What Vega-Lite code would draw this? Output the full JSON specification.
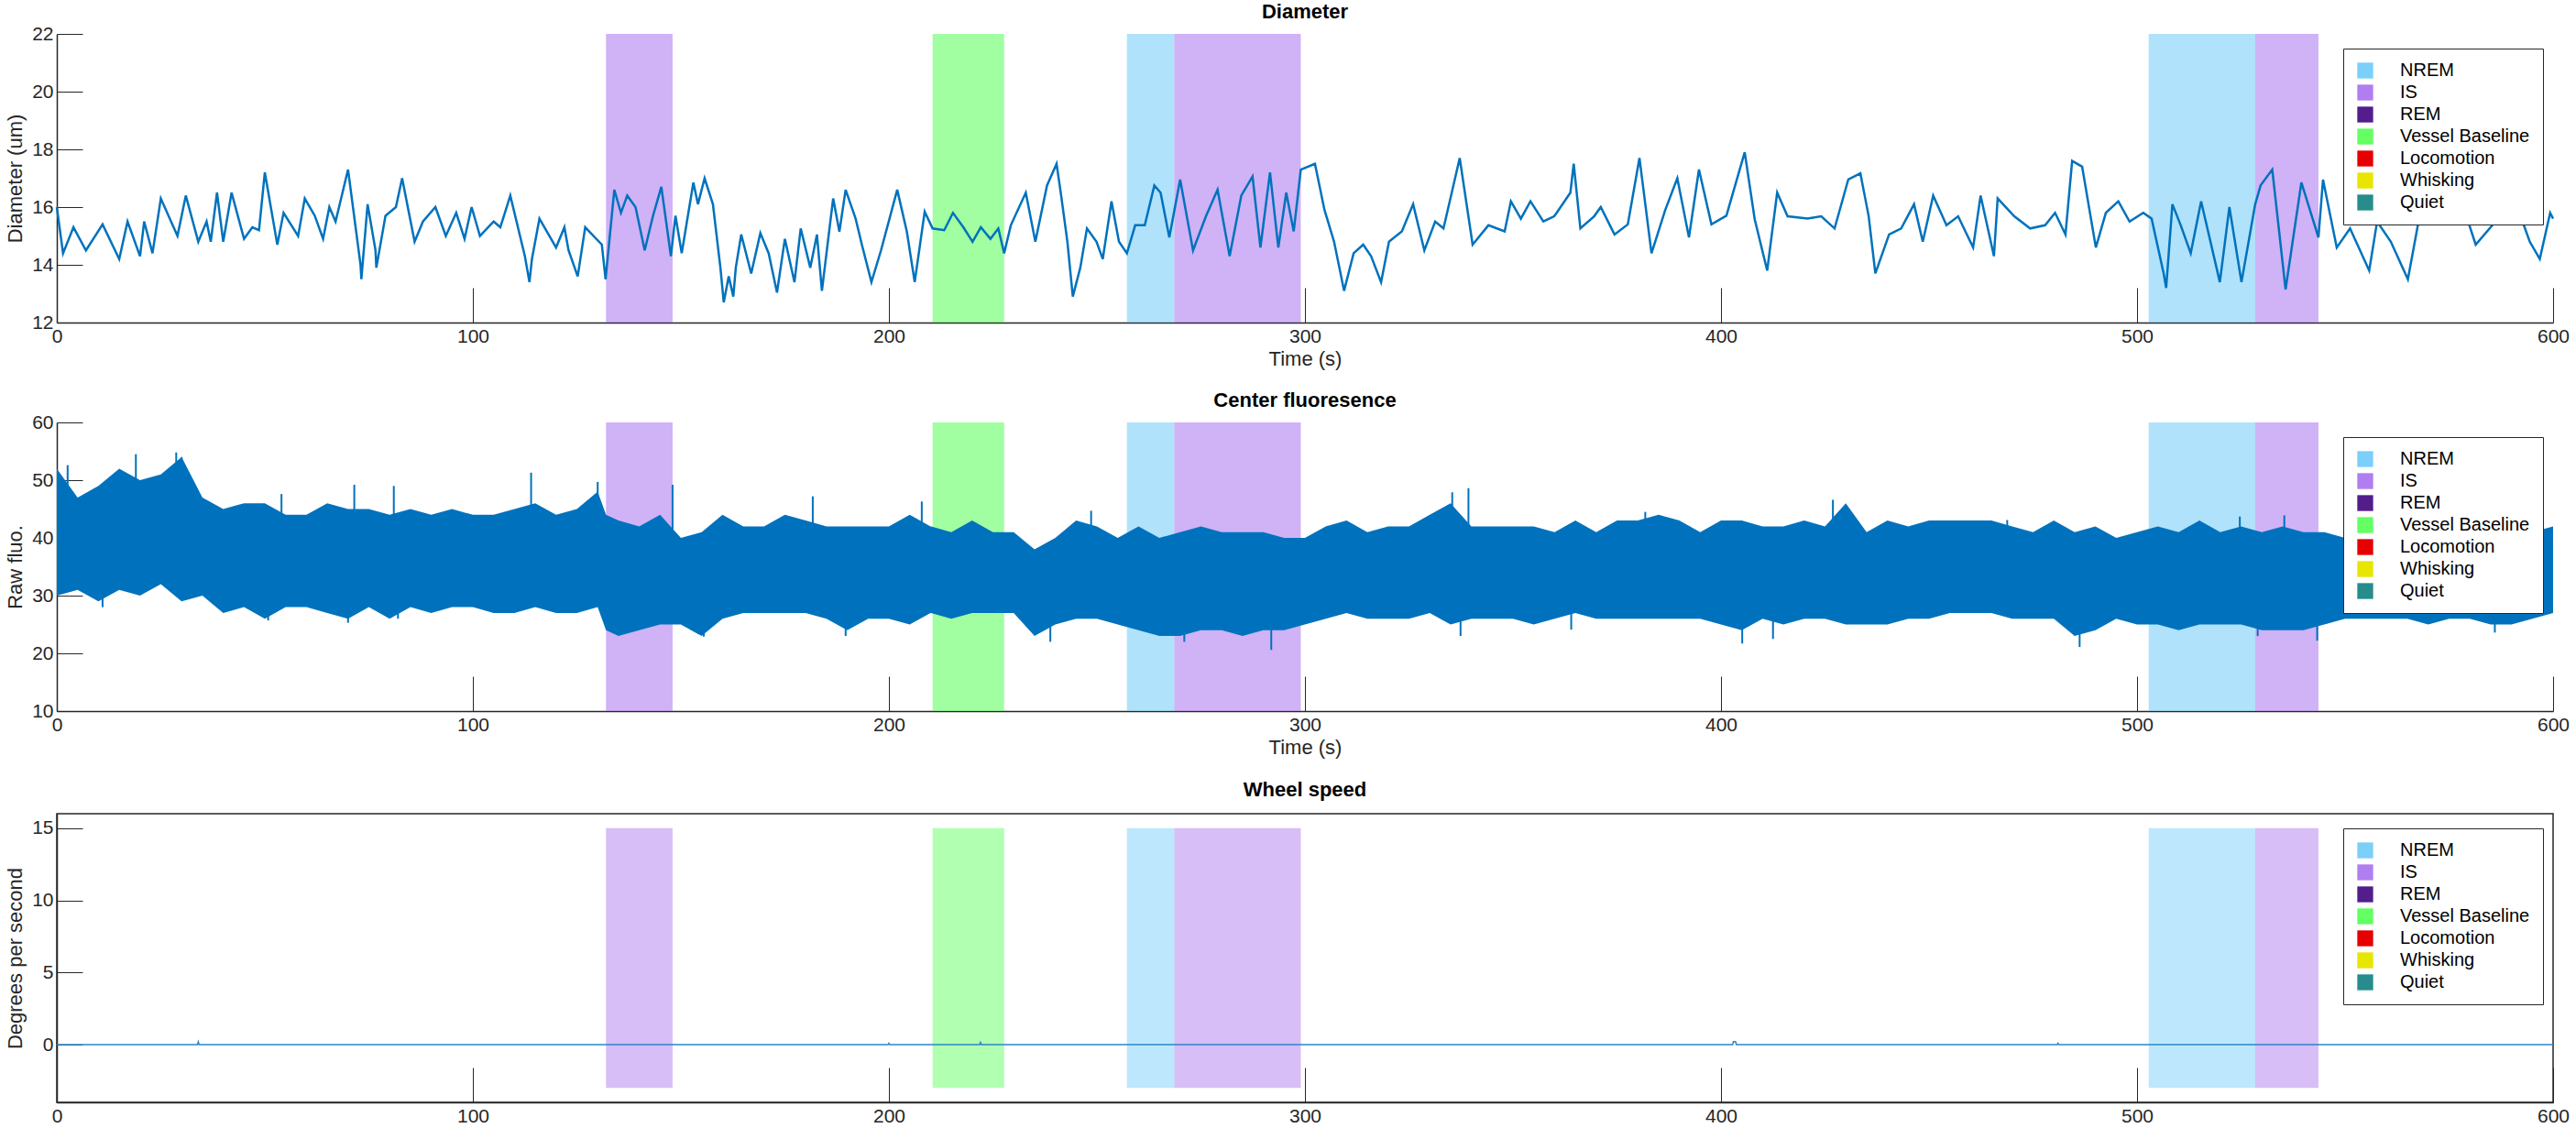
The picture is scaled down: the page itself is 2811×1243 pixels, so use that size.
{
  "$schema": "https://vega.github.io/schema/vega-lite/v6.json",
  "background": "white",
  "padding": {"left": 4, "top": 2, "right": 5, "bottom": 0},
  "spacing": 24,
  "config": {
    "font": "Liberation Sans",
    "view": {"stroke": null},
    "axis": {
      "grid": false, "domainColor": "#262626", "domainWidth": 1.5, "tickColor": "#262626",
      "labelFontSize": 21, "labelColor": "#262626", "titleFontSize": 22, "titleFontWeight": "normal",
      "titleColor": "#262626", "labelFlush": false
    },
    "axisX": {"tickSize": -38, "labelPadding": 42, "titlePadding": 4},
    "axisY": {"tickSize": -28, "labelPadding": 32, "titlePadding": 6},
    "title": {"fontSize": 22, "fontWeight": "bold", "color": "#000", "offset": 1},
    "legend": {
      "orient": "none", "legendX": 2495, "legendY": 16, "title": null, "strokeColor": "#262626",
      "fillColor": "white", "padding": 14, "labelFontSize": 20, "symbolType": "square",
      "symbolSize": 300, "symbolOpacity": 1, "symbolStrokeWidth": 0, "rowPadding": 4,
      "labelOffset": 28, "labelColor": "#000"
    }
  },
  "datasets": {
    "bands": [
      {"state": "IS", "start": 132, "end": 148},
      {"state": "Vessel Baseline", "start": 210.5, "end": 227.7},
      {"state": "NREM", "start": 257.2, "end": 268.6},
      {"state": "IS", "start": 268.6, "end": 299},
      {"state": "NREM", "start": 502.8, "end": 528.4},
      {"state": "IS", "start": 528.4, "end": 543.6}
    ],
    "diam": [
      {"t":0,"v":16},{"t":1.5,"v":14.4},{"t":4,"v":15.3},{"t":7,"v":14.5},{"t":11,"v":15.4},{"t":15,"v":14.2},{"t":17,"v":15.5},{"t":20,"v":14.3},{"t":21,"v":15.5},{"t":23,"v":14.4},{"t":25,"v":16.3},{"t":29,"v":15},{"t":31,"v":16.4},{"t":34,"v":14.8},{"t":36,"v":15.5},{"t":37,"v":14.8},{"t":38.5,"v":16.5},{"t":40,"v":14.8},{"t":42,"v":16.5},{"t":45,"v":14.9},{"t":47,"v":15.3},{"t":48.6,"v":15.2},{"t":50,"v":17.2},{"t":53,"v":14.7},{"t":54.5,"v":15.8},{"t":58,"v":15},{"t":59.6,"v":16.3},{"t":62,"v":15.7},{"t":64,"v":14.9},{"t":65.5,"v":16},{"t":67,"v":15.5},{"t":70,"v":17.3},{"t":73,"v":14},{"t":73.2,"v":13.5},{"t":74.7,"v":16.1},{"t":76.6,"v":14.5},{"t":76.8,"v":13.9},{"t":79,"v":15.7},{"t":81.5,"v":16},{"t":83,"v":17},{"t":86,"v":14.8},{"t":88,"v":15.5},{"t":91,"v":16},{"t":93.5,"v":15},{"t":96,"v":15.8},{"t":98,"v":14.9},{"t":99.7,"v":16},{"t":101.7,"v":15},{"t":105,"v":15.5},{"t":106.6,"v":15.3},{"t":109,"v":16.4},{"t":112.5,"v":14.3},{"t":113.6,"v":13.4},{"t":114.2,"v":14.2},{"t":116,"v":15.6},{"t":120,"v":14.6},{"t":122,"v":15.3},{"t":123,"v":14.5},{"t":125.2,"v":13.6},{"t":127,"v":15.3},{"t":131,"v":14.7},{"t":131.9,"v":13.5},
      {"t":134,"v":16.6},{"t":135.6,"v":15.8},{"t":137.1,"v":16.4},{"t":139.1,"v":16},{"t":141.3,"v":14.5},{"t":143.3,"v":15.7},{"t":145.3,"v":16.7},{"t":147.6,"v":14.3},{"t":148.7,"v":15.7},{"t":150.2,"v":14.4},{"t":153,"v":16.85},{"t":154.1,"v":16.1},{"t":155.7,"v":17},{"t":157.7,"v":16.1},{"t":159.5,"v":13.9},{"t":160.3,"v":12.7},{"t":161.5,"v":13.6},{"t":162.6,"v":12.9},{"t":163.2,"v":13.9},{"t":164.5,"v":15.05},{"t":166.9,"v":13.7},{"t":169.1,"v":15.1},{"t":171.1,"v":14.4},{"t":173.1,"v":13.04},{"t":175,"v":14.9},{"t":177.3,"v":13.4},{"t":178.8,"v":15.26},{"t":181.1,"v":13.9},{"t":182.7,"v":15.05},{"t":183.9,"v":13.1},{"t":186.6,"v":16.3},{"t":188.1,"v":15.15},{"t":189.6,"v":16.6},{"t":192,"v":15.6},{"t":193.5,"v":14.7},{"t":195.8,"v":13.4},{"t":198.1,"v":14.5},{"t":202,"v":16.6},{"t":204.3,"v":15.16},{"t":206.2,"v":13.4},{"t":208.6,"v":15.84},{"t":210.5,"v":15.26},{"t":213.3,"v":15.2},{"t":215.4,"v":15.8},{"t":217.9,"v":15.3},{"t":220.1,"v":14.8},{"t":222.1,"v":15.3},{"t":224.4,"v":14.9},{"t":226.3,"v":15.26},{"t":227.7,"v":14.4},{"t":229.3,"v":15.37},{"t":232.9,"v":16.5},{"t":235.2,"v":14.8},{"t":238,"v":16.75},{"t":240.3,"v":17.5},{"t":241.4,"v":16.4},{"t":242.9,"v":14.8},{"t":244.2,"v":12.9},{"t":246,"v":13.9},{"t":247.6,"v":15.26},{"t":249.9,"v":14.8},{"t":251.4,"v":14.2},{"t":253.5,"v":16.2},{"t":255.3,"v":14.8},{"t":257.2,"v":14.4},{"t":259.2,"v":15.37},{"t":261.5,"v":15.37},{"t":263.8,"v":16.75},{"t":265.3,"v":16.5},{"t":267.4,"v":14.95},{"t":270,"v":16.95},{"t":273.1,"v":14.5},{"t":276.2,"v":15.68},{"t":279,"v":16.6},{"t":281.9,"v":14.3},{"t":284.7,"v":16.4},{"t":287.4,"v":17.06},{"t":289.3,"v":14.6},{"t":291.6,"v":17.2},{"t":293.6,"v":14.6},{"t":295.5,"v":16.5},{"t":297.3,"v":15.16},{"t":299,"v":17.3},{"t":302.4,"v":17.5},{"t":304.7,"v":15.9},{"t":307,"v":14.8},{"t":309.4,"v":13.1},{"t":311.7,"v":14.4},{"t":314,"v":14.7},{"t":315.9,"v":14.3},{"t":318.3,"v":13.4},{"t":320.2,"v":14.8},{"t":323.3,"v":15.16},{"t":326,"v":16.1},{"t":328.7,"v":14.5},{"t":331.3,"v":15.5},{"t":333.3,"v":15.26},{"t":337.2,"v":17.7},{"t":340.3,"v":14.7},{"t":344.1,"v":15.37},{"t":348,"v":15.16},{"t":349.5,"v":16.2},{"t":351.9,"v":15.6},{"t":354.2,"v":16.2},{"t":357.3,"v":15.5},{"t":359.9,"v":15.68},
      {"t":360.5,"v":15.8},{"t":363.8,"v":16.5},{"t":364.6,"v":17.5},{"t":366.2,"v":15.26},{"t":369.5,"v":15.68},{"t":371.1,"v":16},{"t":374.4,"v":15.05},{"t":377.6,"v":15.4},{"t":380.4,"v":17.7},{"t":383.3,"v":14.4},{"t":386.6,"v":15.9},{"t":389.5,"v":17},{"t":392.3,"v":14.95},{"t":394.7,"v":17.3},{"t":397.7,"v":15.4},{"t":401.3,"v":15.7},{"t":405.7,"v":17.9},{"t":408.1,"v":15.58},{"t":411.1,"v":13.8},{"t":413.5,"v":16.5},{"t":416,"v":15.68},{"t":420.8,"v":15.6},{"t":424.1,"v":15.68},{"t":427.3,"v":15.26},{"t":430.6,"v":16.96},{"t":433.5,"v":17.17},{"t":435.5,"v":15.68},{"t":437.1,"v":13.7},{"t":440.4,"v":15.05},{"t":443.3,"v":15.26},{"t":446.4,"v":16.1},{"t":448.5,"v":14.8},{"t":451,"v":16.4},{"t":454.2,"v":15.37},{"t":457,"v":15.68},{"t":460.6,"v":14.6},{"t":462.4,"v":16.4},{"t":465.6,"v":14.3},{"t":466.5,"v":16.3},{"t":470.5,"v":15.68},{"t":474.3,"v":15.26},{"t":477.9,"v":15.37},{"t":480.3,"v":15.8},{"t":482.8,"v":15.05},{"t":484.4,"v":17.6},{"t":486.8,"v":17.4},{"t":490.1,"v":14.6},{"t":492.5,"v":15.8},{"t":495.5,"v":16.2},{"t":498.2,"v":15.5},{"t":501.5,"v":15.8},{"t":503.5,"v":15.6},{"t":506.4,"v":13.7},{"t":507,"v":13.2},{"t":508.5,"v":16.1},{"t":510.5,"v":15.37},{"t":512.9,"v":14.4},{"t":515.4,"v":16.2},{"t":519.9,"v":13.4},{"t":522.2,"v":16},{"t":525.1,"v":13.4},{"t":528.4,"v":16.1},{"t":529.7,"v":16.75},{"t":532.5,"v":17.3},{"t":535.7,"v":13.15},{"t":539.5,"v":16.85},{"t":543.6,"v":14.95},{"t":544.7,"v":16.95},{"t":548,"v":14.6},{"t":551.2,"v":15.26},{"t":555.8,"v":13.8},{"t":557.7,"v":15.5},{"t":561,"v":14.8},{"t":565.1,"v":13.5},{"t":568.3,"v":16},{"t":571.6,"v":15.5},{"t":575.6,"v":15.58},{"t":578.9,"v":15.8},{"t":581.4,"v":14.7},{"t":585.4,"v":15.37},{"t":588.7,"v":16.2},{"t":591.9,"v":15.8},{"t":594.4,"v":14.8},{"t":596.8,"v":14.2},{"t":599.3,"v":15.8},{"t":600,"v":15.6}
    ],
    "fluo": [
      {"t":0,"hi":52,"lo":30},{"t":5,"hi":47,"lo":31},{"t":10,"hi":49,"lo":29},{"t":15,"hi":52,"lo":31},{"t":20,"hi":50,"lo":30},{"t":25,"hi":51,"lo":32},{"t":30,"hi":54,"lo":29},{"t":35,"hi":47,"lo":30},{"t":40,"hi":45,"lo":27},{"t":45,"hi":46,"lo":28},{"t":50,"hi":46,"lo":26},{"t":55,"hi":44,"lo":28},{"t":60,"hi":44,"lo":28},{"t":65,"hi":46,"lo":27},{"t":70,"hi":45,"lo":26},{"t":75,"hi":45,"lo":28},{"t":80,"hi":44,"lo":26},{"t":85,"hi":45,"lo":28},{"t":90,"hi":44,"lo":27},{"t":95,"hi":45,"lo":28},{"t":100,"hi":44,"lo":28},{"t":105,"hi":44,"lo":27},{"t":110,"hi":45,"lo":27},{"t":115,"hi":46,"lo":28},{"t":120,"hi":44,"lo":27},{"t":125,"hi":45,"lo":27},{"t":130,"hi":48,"lo":28},{"t":132,"hi":44,"lo":24},{"t":135,"hi":43,"lo":23},{"t":140,"hi":42,"lo":24},{"t":145,"hi":44,"lo":25},{"t":150,"hi":40,"lo":25},{"t":155,"hi":41,"lo":23},{"t":160,"hi":44,"lo":26},{"t":165,"hi":42,"lo":27},{"t":170,"hi":42,"lo":27},{"t":175,"hi":44,"lo":27},{"t":180,"hi":43,"lo":27},{"t":185,"hi":42,"lo":26},{"t":190,"hi":42,"lo":24},{"t":195,"hi":42,"lo":26},{"t":200,"hi":42,"lo":26},{"t":205,"hi":44,"lo":25},{"t":210,"hi":42,"lo":27},{"t":215,"hi":41,"lo":26},{"t":220,"hi":43,"lo":27},{"t":225,"hi":41,"lo":27},{"t":230,"hi":41,"lo":27},{"t":235,"hi":38,"lo":23},{"t":240,"hi":40,"lo":25},{"t":245,"hi":43,"lo":26},{"t":250,"hi":42,"lo":26},{"t":255,"hi":40,"lo":25},{"t":260,"hi":42,"lo":24},{"t":265,"hi":40,"lo":23},{"t":270,"hi":41,"lo":23},{"t":275,"hi":42,"lo":24},{"t":280,"hi":41,"lo":24},{"t":285,"hi":41,"lo":23},{"t":290,"hi":41,"lo":24},{"t":295,"hi":40,"lo":24},{"t":300,"hi":40,"lo":25},{"t":305,"hi":42,"lo":26},{"t":310,"hi":43,"lo":27},{"t":315,"hi":41,"lo":26},{"t":320,"hi":42,"lo":26},{"t":325,"hi":42,"lo":26},{"t":330,"hi":44,"lo":27},{"t":335,"hi":46,"lo":25},{"t":340,"hi":42,"lo":26},{"t":345,"hi":42,"lo":26},{"t":350,"hi":42,"lo":26},{"t":355,"hi":42,"lo":25},{"t":360,"hi":41,"lo":26},{"t":365,"hi":43,"lo":27},{"t":370,"hi":41,"lo":26},{"t":375,"hi":43,"lo":26},{"t":380,"hi":43,"lo":26},{"t":385,"hi":44,"lo":26},{"t":390,"hi":43,"lo":26},{"t":395,"hi":41,"lo":26},{"t":400,"hi":43,"lo":25},{"t":405,"hi":43,"lo":24},{"t":410,"hi":42,"lo":26},{"t":415,"hi":42,"lo":25},{"t":420,"hi":43,"lo":26},{"t":425,"hi":42,"lo":26},{"t":430,"hi":46,"lo":25},{"t":435,"hi":41,"lo":25},{"t":440,"hi":43,"lo":25},{"t":445,"hi":42,"lo":26},{"t":450,"hi":43,"lo":26},{"t":455,"hi":43,"lo":27},{"t":460,"hi":43,"lo":27},{"t":465,"hi":43,"lo":27},{"t":470,"hi":42,"lo":26},{"t":475,"hi":41,"lo":26},{"t":480,"hi":43,"lo":26},{"t":485,"hi":41,"lo":23},{"t":490,"hi":42,"lo":24},{"t":495,"hi":40,"lo":26},{"t":500,"hi":41,"lo":25},{"t":505,"hi":42,"lo":25},{"t":510,"hi":41,"lo":24},{"t":515,"hi":43,"lo":25},{"t":520,"hi":41,"lo":25},{"t":525,"hi":42,"lo":25},{"t":530,"hi":41,"lo":24},{"t":535,"hi":42,"lo":24},{"t":540,"hi":41,"lo":24},{"t":545,"hi":41,"lo":25},{"t":550,"hi":40,"lo":26},{"t":555,"hi":40,"lo":26},{"t":560,"hi":40,"lo":26},{"t":565,"hi":39,"lo":26},{"t":570,"hi":40,"lo":25},{"t":575,"hi":40,"lo":26},{"t":580,"hi":40,"lo":26},{"t":585,"hi":39,"lo":25},{"t":590,"hi":39,"lo":25},{"t":595,"hi":41,"lo":26},{"t":600,"hi":42,"lo":27}
    ],
    "spikes": [
      {"t":2.6,"a":40,"b":52.6},{"t":19,"a":40,"b":54.5},{"t":28.7,"a":40,"b":54.8},{"t":30,"a":40,"b":54},{"t":54,"a":38,"b":47.6},{"t":71.5,"a":38,"b":49.2},{"t":81,"a":38,"b":49},{"t":114,"a":38,"b":51.3},{"t":130,"a":38,"b":49.7},{"t":148,"a":35,"b":49.2},{"t":181.7,"a":35,"b":47.2},{"t":207.9,"a":35,"b":46.3},{"t":248.6,"a":35,"b":44.7},
      {"t":11,"a":34,"b":28},{"t":50.8,"a":34,"b":25.7},{"t":70,"a":34,"b":25.3},{"t":82,"a":34,"b":26},{"t":155.5,"a":32,"b":22.9},{"t":189.6,"a":32,"b":23},{"t":238.8,"a":32,"b":22},{"t":271,"a":32,"b":22},{"t":291.9,"a":32,"b":20.6},
      {"t":335.4,"a":36,"b":47.9},{"t":339.3,"a":36,"b":48.6},{"t":381.8,"a":36,"b":44.5},{"t":426.9,"a":36,"b":46.6},{"t":468.8,"a":36,"b":43.1},{"t":524.7,"a":36,"b":43.7},{"t":535.4,"a":36,"b":43.9},
      {"t":337.4,"a":32,"b":23},{"t":364,"a":32,"b":24.1},{"t":405.1,"a":32,"b":21.7},{"t":412.5,"a":32,"b":22.5},{"t":486.2,"a":32,"b":21.1},{"t":529,"a":32,"b":23},{"t":543.3,"a":32,"b":22.2},{"t":586,"a":32,"b":23.6}
    ],
    "wheel": [
      {"t":0,"v":0},{"t":33.8,"v":0},{"t":34,"v":0.2},{"t":34.2,"v":0},{"t":199.8,"v":0},{"t":200,"v":0.1},{"t":200.2,"v":0},{"t":221.8,"v":0},{"t":222,"v":0.15},{"t":222.2,"v":0},{"t":402.8,"v":0},{"t":403,"v":0.2},{"t":403.5,"v":0.2},{"t":403.7,"v":0},{"t":480.8,"v":0},{"t":481,"v":0.1},{"t":481.2,"v":0},{"t":600,"v":0}
    ]
  },
  "vconcat": [
    {
      "title": "Diameter",
      "width": 2724, "height": 315,
      "layer": [
        {
          "data": {"name": "bands"},
          "mark": {"type": "rect", "opacity": 0.6},
          "encoding": {
            "x": {"field": "start", "type": "quantitative", "scale": {"domain": [0, 600]}, "axis": {"title": "Time (s)", "values": [0,100,200,300,400,500,600]}},
            "x2": {"field": "end"},
            "y": {"datum": 12, "type": "quantitative", "scale": {"domain": [12, 22]}, "axis": {"title": "Diameter (um)", "values": [12,14,16,18,20,22]}},
            "y2": {"datum": 22},
            "color": {"field": "state", "type": "nominal", "scale": {"domain": ["NREM","IS","REM","Vessel Baseline","Locomotion","Whisking","Quiet"], "range": ["#7bcff9","#b07ef0","#531d8c","#63ff63","#e60000","#e6e600","#268c8c"]}}
          }
        },
        {
          "data": {"name": "diam"},
          "mark": {"type": "line", "color": "#0072bd", "strokeWidth": 2.5},
          "encoding": {
            "x": {"field": "t", "type": "quantitative"},
            "y": {"field": "v", "type": "quantitative"}
          }
        }
      ]
    },
    {
      "title": "Center fluoresence",
      "width": 2724, "height": 315,
      "layer": [
        {
          "data": {"name": "bands"},
          "mark": {"type": "rect", "opacity": 0.6},
          "encoding": {
            "x": {"field": "start", "type": "quantitative", "scale": {"domain": [0, 600]}, "axis": {"title": "Time (s)", "values": [0,100,200,300,400,500,600]}},
            "x2": {"field": "end"},
            "y": {"datum": 10, "type": "quantitative", "scale": {"domain": [10, 60]}, "axis": {"title": "Raw fluo.", "values": [10,20,30,40,50,60]}},
            "y2": {"datum": 60},
            "color": {"field": "state", "type": "nominal", "scale": {"domain": ["NREM","IS","REM","Vessel Baseline","Locomotion","Whisking","Quiet"], "range": ["#7bcff9","#b07ef0","#531d8c","#63ff63","#e60000","#e6e600","#268c8c"]}}
          }
        },
        {
          "data": {"name": "fluo"},
          "mark": {"type": "area", "color": "#0072bd", "opacity": 1},
          "encoding": {
            "x": {"field": "t", "type": "quantitative"},
            "y": {"field": "hi", "type": "quantitative"},
            "y2": {"field": "lo"}
          }
        },
        {
          "data": {"name": "spikes"},
          "mark": {"type": "rule", "color": "#0072bd", "strokeWidth": 2},
          "encoding": {
            "x": {"field": "t", "type": "quantitative"},
            "y": {"field": "a", "type": "quantitative"},
            "y2": {"field": "b"}
          }
        }
      ]
    },
    {
      "title": {"text": "Wheel speed", "offset": 14},
      "width": 2724, "height": 315,
      "view": {"stroke": "#262626", "strokeWidth": 1.5},
      "layer": [
        {
          "data": {"name": "bands"},
          "mark": {"type": "rect", "opacity": 0.5},
          "encoding": {
            "x": {"field": "start", "type": "quantitative", "scale": {"domain": [0, 600]}, "axis": {"title": null, "values": [0,100,200,300,400,500,600]}},
            "x2": {"field": "end"},
            "y": {"datum": -3, "type": "quantitative", "scale": {"domain": [-3, 15]}, "axis": {"title": "Degrees per second", "values": [0,5,10,15]}},
            "y2": {"datum": 15},
            "color": {"field": "state", "type": "nominal", "scale": {"domain": ["NREM","IS","REM","Vessel Baseline","Locomotion","Whisking","Quiet"], "range": ["#7bcff9","#b07ef0","#531d8c","#63ff63","#e60000","#e6e600","#268c8c"]}}
          }
        },
        {
          "data": {"name": "wheel"},
          "mark": {"type": "line", "color": "#2a86c8", "strokeWidth": 1.5},
          "encoding": {
            "x": {"field": "t", "type": "quantitative"},
            "y": {"field": "v", "type": "quantitative"}
          }
        }
      ]
    }
  ],
  "resolve": {"scale": {"color": "independent"}}
}
